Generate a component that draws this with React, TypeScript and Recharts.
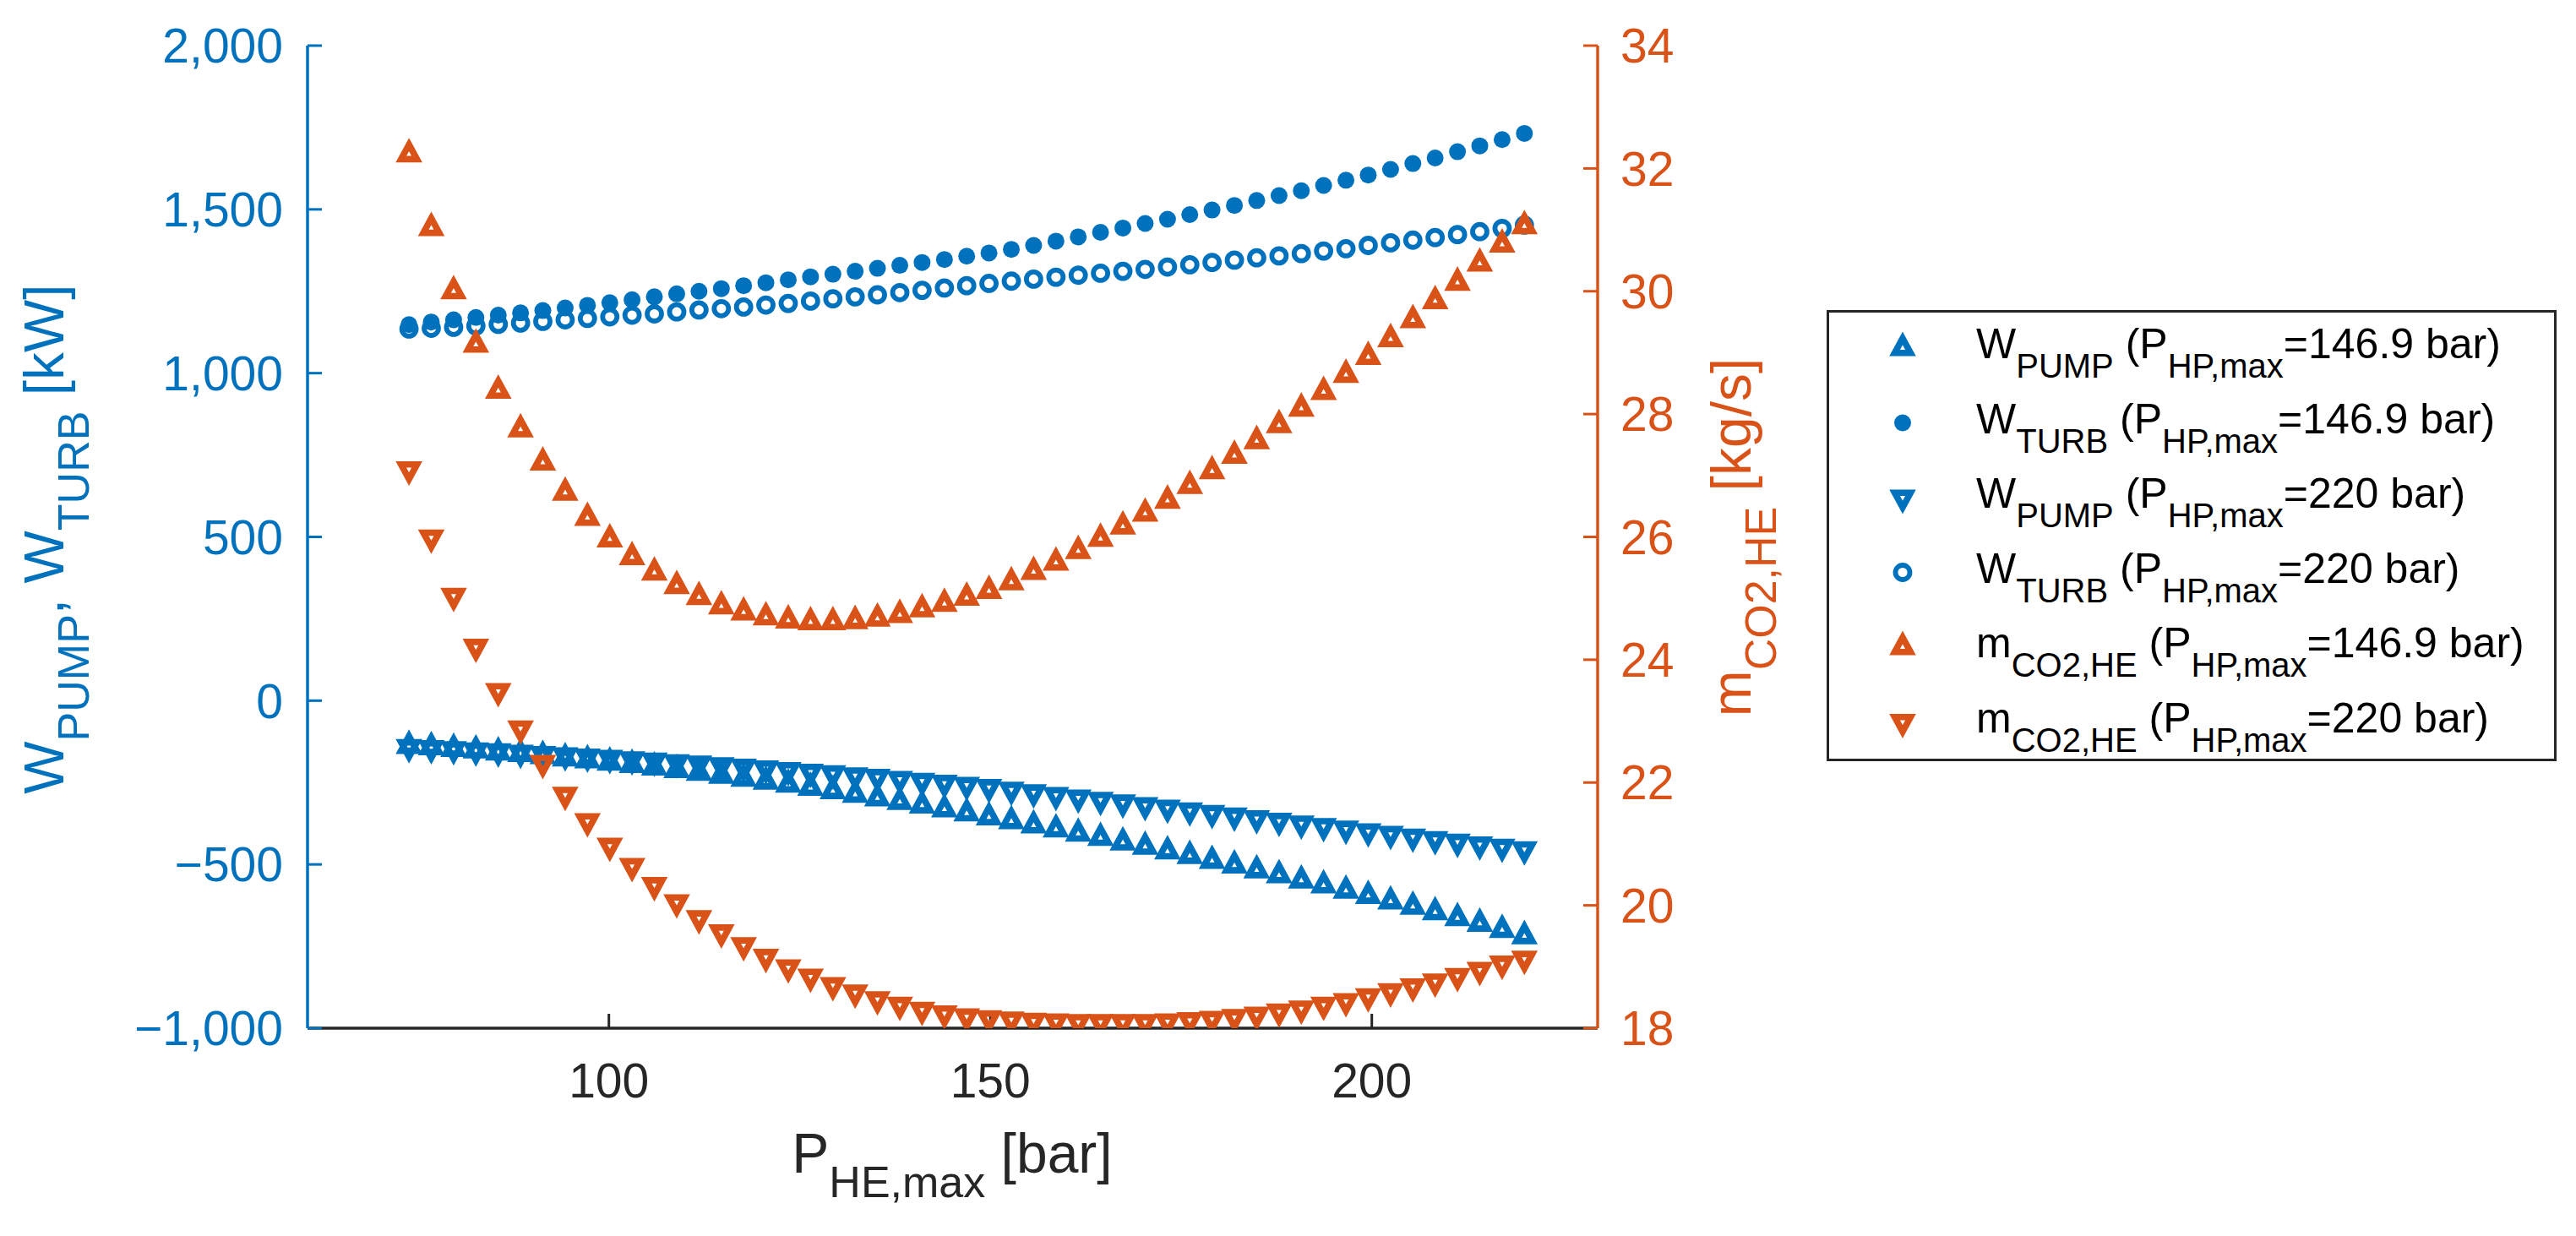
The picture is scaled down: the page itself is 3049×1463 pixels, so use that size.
import React from 'react';
import { ScatterChart, Scatter, XAxis, YAxis, Legend } from 'recharts';

const FONT = '"Liberation Sans", Arial, Helvetica, sans-serif';
const BLUE = '#0072BD';
const ORANGE = '#D95319';
const DARK = '#262626';

// P_HE,max [bar]
const pressureHE = [73.8, 76.72, 79.65, 82.57, 85.5, 88.42, 91.34, 94.27, 97.19, 100.12, 103.04, 105.96, 108.89, 111.81, 114.74, 117.66, 120.58, 123.51, 126.43, 129.36, 132.28, 135.2, 138.13, 141.05, 143.98, 146.9, 149.82, 152.75, 155.67, 158.6, 161.52, 164.44, 167.37, 170.29, 173.22, 176.14, 179.06, 181.99, 184.91, 187.84, 190.76, 193.68, 196.61, 199.53, 202.46, 205.38, 208.3, 211.23, 214.15, 217.08, 220];

// W_PUMP (P_HP,max = 146.9 bar) [kW]
const wPump1469 = [-138, -142, -147, -152, -158, -163, -169, -176, -182, -189, -196, -204, -212, -220, -229, -238, -247, -256, -266, -276, -287, -298, -309, -320, -332, -344, -356, -368, -381, -393, -406, -419, -433, -446, -460, -474, -489, -503, -518, -533, -549, -564, -580, -596, -613, -629, -646, -664, -681, -700, -719];
// W_TURB (P_HP,max = 146.9 bar) [kW]
const wTurb1469 = [1148, 1156, 1163, 1170, 1177, 1184, 1191, 1199, 1207, 1215, 1224, 1233, 1242, 1250, 1258, 1267, 1276, 1285, 1294, 1302, 1311, 1320, 1329, 1338, 1347, 1357, 1367, 1378, 1390, 1403, 1416, 1430, 1443, 1457, 1470, 1484, 1498, 1512, 1527, 1542, 1557, 1573, 1589, 1605, 1622, 1640, 1657, 1676, 1694, 1713, 1732];
// W_PUMP (P_HP,max = 220 bar) [kW]
const wPump220 = [-142, -145, -148, -152, -155, -159, -163, -167, -171, -175, -179, -183, -188, -192, -197, -202, -207, -212, -217, -222, -228, -233, -239, -245, -251, -257, -264, -272, -280, -288, -296, -303, -311, -319, -327, -335, -343, -351, -359, -367, -375, -383, -391, -399, -407, -415, -423, -431, -439, -446, -454];
// W_TURB (P_HP,max = 220 bar) [kW]
const wTurb220 = [1135, 1137, 1140, 1144, 1149, 1153, 1158, 1163, 1167, 1172, 1177, 1181, 1187, 1193, 1197, 1202, 1208, 1213, 1220, 1227, 1233, 1239, 1246, 1253, 1260, 1267, 1274, 1281, 1287, 1293, 1299, 1305, 1311, 1317, 1324, 1331, 1338, 1345, 1352, 1358, 1365, 1373, 1380, 1390, 1398, 1406, 1414, 1423, 1432, 1442, 1452];
// m_CO2,HE (P_HP,max = 146.9 bar) [kg/s]
const mCO2_1469 = [32.23, 31.03, 30.0, 29.13, 28.38, 27.75, 27.21, 26.72, 26.31, 25.96, 25.67, 25.42, 25.2, 25.02, 24.87, 24.77, 24.69, 24.64, 24.61, 24.61, 24.63, 24.67, 24.73, 24.82, 24.91, 25.01, 25.12, 25.26, 25.43, 25.58, 25.77, 25.97, 26.17, 26.38, 26.59, 26.83, 27.07, 27.32, 27.56, 27.82, 28.09, 28.36, 28.64, 28.93, 29.22, 29.53, 29.84, 30.14, 30.45, 30.76, 31.06];
// m_CO2,HE (P_HP,max = 220 bar) [kg/s]
const mCO2_220 = [27.1, 25.99, 25.04, 24.21, 23.49, 22.88, 22.32, 21.8, 21.37, 20.97, 20.64, 20.33, 20.05, 19.79, 19.56, 19.35, 19.16, 18.99, 18.84, 18.7, 18.58, 18.47, 18.38, 18.3, 18.24, 18.19, 18.16, 18.14, 18.12, 18.11, 18.1, 18.1, 18.1, 18.1, 18.11, 18.13, 18.15, 18.18, 18.22, 18.27, 18.32, 18.38, 18.44, 18.52, 18.6, 18.68, 18.76, 18.85, 18.95, 19.05, 19.13];

const xTicks = [100, 150, 200];
const leftTicks = [-1000, -500, 0, 500, 1000, 1500, 2000];
const rightTicks = [18, 20, 22, 24, 26, 28, 30, 32, 34];

const toPoints = (ys: number[]) => pressureHE.map((x, i) => ({ x, y: ys[i] }));

const fmtLeft = (v: number) => (v < 0 ? '\u2212' : '') + Math.abs(v).toLocaleString('en-US');

// ---------- marker shapes ----------
const TRI_A = 9.4;
const TRI_H = 17.3;
const TRI_SW = 7.6;

function triPath(cx: number, cy: number, up: boolean) {
  if (up) {
    return `M${cx},${cy - (2 * TRI_H) / 3} L${cx + TRI_A},${cy + TRI_H / 3} L${cx - TRI_A},${cy + TRI_H / 3} Z`;
  }
  return `M${cx},${cy + (2 * TRI_H) / 3} L${cx + TRI_A},${cy - TRI_H / 3} L${cx - TRI_A},${cy - TRI_H / 3} Z`;
}

const makeTri = (color: string, up: boolean) => (props: any) => {
  const { cx, cy } = props;
  if (cx == null || cy == null) return <g />;
  return <path d={triPath(cx, cy, up)} fill="none" stroke={color} strokeWidth={TRI_SW} strokeLinejoin="miter" strokeMiterlimit={10} />;
};
const makeDot = (color: string) => (props: any) => {
  const { cx, cy } = props;
  if (cx == null || cy == null) return <g />;
  return <circle cx={cx} cy={cy} r={10} fill={color} />;
};
const makeRing = (color: string) => (props: any) => {
  const { cx, cy } = props;
  if (cx == null || cy == null) return <g />;
  return <circle cx={cx} cy={cy} r={8.5} fill="none" stroke={color} strokeWidth={5.8} />;
};

// ---------- rich text with subscripts ----------
type Part = [string, boolean];
function RichText(props: {
  x: number; y: number; parts: Part[]; size: number; subSize: number; shift: number;
  fill: string; anchor?: string; rotate?: boolean;
}) {
  const { x, y, parts, size, subSize, shift, fill, anchor, rotate } = props;
  let cur = 0;
  const spans = parts.map(([t, sub], i) => {
    const target = sub ? shift : 0;
    const dy = target - cur;
    cur = target;
    return (
      <tspan key={i} dy={dy} fontSize={sub ? subSize : size}>
        {t}
      </tspan>
    );
  });
  return (
    <text
      x={x}
      y={y}
      textAnchor={(anchor as any) || 'start'}
      fill={fill}
      fontFamily={FONT}
      fontSize={size}
      transform={rotate ? `rotate(-90 ${x} ${y})` : undefined}
      style={{ whiteSpace: 'pre' }}
    >
      {spans}
    </text>
  );
}

const leftLabelParts: Part[] = [['W', false], ['PUMP', true], [', W', false], ['TURB', true], [' [kW]', false]];
const rightLabelParts: Part[] = [['m', false], ['CO2,HE', true], [' [kg/s]', false]];
const xLabelParts: Part[] = [['P', false], ['HE,max', true], [' [bar]', false]];

const LeftLabel = () => (
  <RichText x={75} y={638} parts={leftLabelParts} size={66} subSize={52} shift={30} fill={BLUE} anchor="middle" rotate />
);
const RightLabel = () => (
  <RichText x={2072} y={636} parts={rightLabelParts} size={66} subSize={52} shift={30} fill={ORANGE} anchor="middle" rotate />
);
const BottomLabel = () => (
  <RichText x={1127} y={1388} parts={xLabelParts} size={66} subSize={52} shift={29} fill={DARK} anchor="middle" />
);

// ---------- legend ----------
const legendEntries: { parts: Part[]; kind: string; color: string }[] = [
  { parts: [['W', false], ['PUMP', true], [' (P', false], ['HP,max', true], ['=146.9 bar)', false]], kind: 'up', color: BLUE },
  { parts: [['W', false], ['TURB', true], [' (P', false], ['HP,max', true], ['=146.9 bar)', false]], kind: 'dot', color: BLUE },
  { parts: [['W', false], ['PUMP', true], [' (P', false], ['HP,max', true], ['=220 bar)', false]], kind: 'down', color: BLUE },
  { parts: [['W', false], ['TURB', true], [' (P', false], ['HP,max', true], ['=220 bar)', false]], kind: 'ring', color: BLUE },
  { parts: [['m', false], ['CO2,HE', true], [' (P', false], ['HP,max', true], ['=146.9 bar)', false]], kind: 'up', color: ORANGE },
  { parts: [['m', false], ['CO2,HE', true], [' (P', false], ['HP,max', true], ['=220 bar)', false]], kind: 'down', color: ORANGE },
];

const LEG_W = 864;
const LEG_H = 534;

function LegendMarker({ kind, color, x, y }: { kind: string; color: string; x: number; y: number }) {
  if (kind === 'up') return makeTri(color, true)({ cx: x, cy: y });
  if (kind === 'down') return makeTri(color, false)({ cx: x, cy: y });
  if (kind === 'dot') return makeDot(color)({ cx: x, cy: y });
  return makeRing(color)({ cx: x, cy: y });
}

const renderLegend = () => (
  <svg width={LEG_W} height={LEG_H} style={{ display: 'block' }}>
    <rect x={1.5} y={1.5} width={LEG_W - 3} height={LEG_H - 3} fill="#fff" stroke={DARK} strokeWidth={3} />
    {legendEntries.map((e, i) => {
      const base = 57 + i * 88.5;
      return (
        <g key={i}>
          <LegendMarker kind={e.kind} color={e.color} x={90} y={base - 12} />
          <RichText x={177} y={base} parts={e.parts} size={50} subSize={40} shift={23} fill="#000" />
        </g>
      );
    })}
  </svg>
);

export default function App() {
  return (
    <div style={{ position: 'absolute', left: 0, top: 0, width: 3049, height: 1463, background: '#fff' }}>
      <ScatterChart
        width={3049}
        height={1463}
        margin={{ top: 54, right: 958, bottom: 146, left: 0 }}
        style={{ fontFamily: FONT }}
      >
        <XAxis
          xAxisId="b"
          type="number"
          dataKey="x"
          domain={[60.5, 229.6]}
          ticks={xTicks}
          allowDataOverflow
          height={100}
          orientation="bottom"
          tickSize={-17}
          tickMargin={59}
          tick={{ fill: DARK, fontSize: 57, fontFamily: FONT }}
          tickLine={{ stroke: DARK, strokeWidth: 3 }}
          axisLine={{ stroke: DARK, strokeWidth: 3.5 }}
          label={<BottomLabel />}
        />
        <XAxis
          xAxisId="t"
          type="number"
          dataKey="x"
          domain={[60.5, 229.6]}
          ticks={xTicks}
          allowDataOverflow
          height={0}
          orientation="top"
          tickSize={-17}
          tick={false}
          tickLine={{ stroke: DARK, strokeWidth: 3 }}
          axisLine={{ stroke: DARK, strokeWidth: 3.5 }}
        />
        <YAxis
          yAxisId="L"
          type="number"
          dataKey="y"
          orientation="left"
          domain={[-1000, 2000]}
          ticks={leftTicks}
          allowDataOverflow
          width={364}
          tickSize={-17}
          tickMargin={46}
          tickFormatter={fmtLeft}
          tick={{ fill: BLUE, fontSize: 57, fontFamily: FONT }}
          tickLine={{ stroke: BLUE, strokeWidth: 3 }}
          axisLine={{ stroke: BLUE, strokeWidth: 3.5 }}
          label={<LeftLabel />}
        />
        <YAxis
          yAxisId="R"
          type="number"
          dataKey="y"
          orientation="right"
          domain={[18, 34]}
          ticks={rightTicks}
          allowDataOverflow
          width={200}
          tickSize={-17}
          tickMargin={44}
          tick={{ fill: ORANGE, fontSize: 57, fontFamily: FONT }}
          tickLine={{ stroke: ORANGE, strokeWidth: 3 }}
          axisLine={{ stroke: ORANGE, strokeWidth: 3.5 }}
          label={<RightLabel />}
        />
        <Scatter name="W_PUMP 146.9" xAxisId="b" yAxisId="L" data={toPoints(wPump1469)} shape={makeTri(BLUE, true)} isAnimationActive={false} />
        <Scatter name="W_TURB 146.9" xAxisId="b" yAxisId="L" data={toPoints(wTurb1469)} shape={makeDot(BLUE)} isAnimationActive={false} />
        <Scatter name="W_PUMP 220" xAxisId="b" yAxisId="L" data={toPoints(wPump220)} shape={makeTri(BLUE, false)} isAnimationActive={false} />
        <Scatter name="W_TURB 220" xAxisId="b" yAxisId="L" data={toPoints(wTurb220)} shape={makeRing(BLUE)} isAnimationActive={false} />
        <Scatter name="m_CO2 146.9" xAxisId="b" yAxisId="R" data={toPoints(mCO2_1469)} shape={makeTri(ORANGE, true)} isAnimationActive={false} />
        <Scatter name="m_CO2 220" xAxisId="b" yAxisId="R" data={toPoints(mCO2_220)} shape={makeTri(ORANGE, false)} isAnimationActive={false} />
        <Legend
          layout="vertical"
          align="center"
          verticalAlign="middle"
          content={renderLegend}
          wrapperStyle={{ position: 'absolute', left: 2162, top: 367, width: LEG_W, height: LEG_H, margin: 0, padding: 0 }}
        />
      </ScatterChart>
    </div>
  );
}
